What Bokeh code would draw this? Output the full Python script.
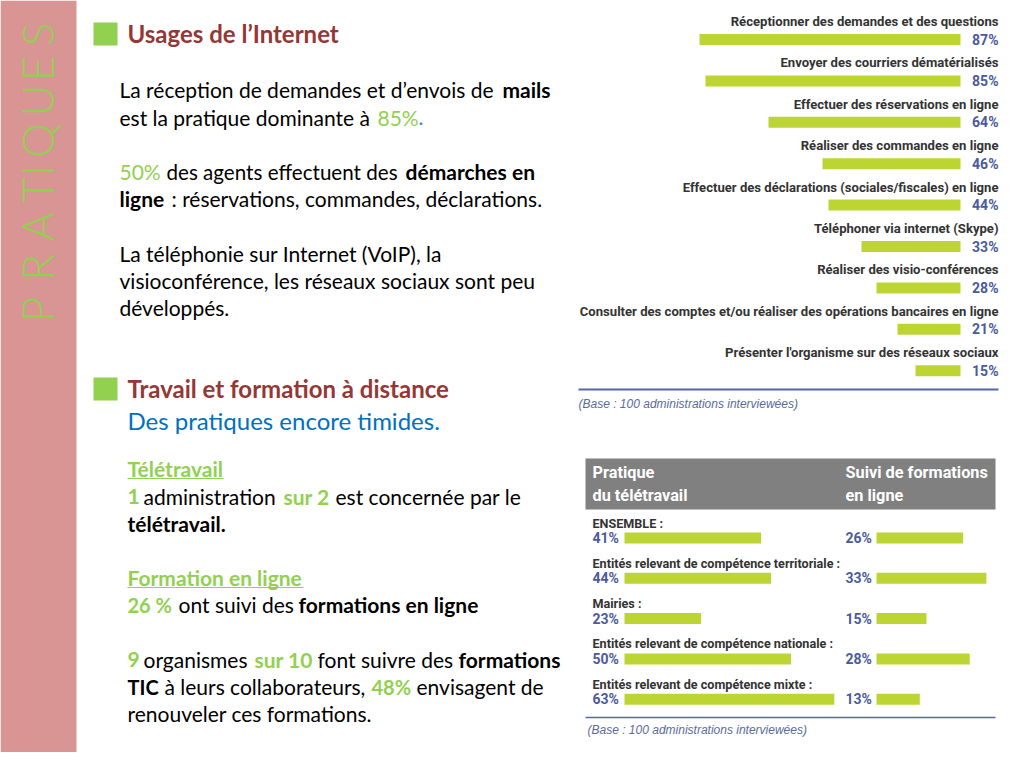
import math
from bokeh.plotting import figure
from bokeh.models import Range1d, ColumnDataSource
from bokeh.core.properties import value
from bokeh.embed import file_html
from bokeh.resources import INLINE

# ---------------- data ----------------
usage_labels = [
    "Réceptionner des demandes et des questions",
    "Envoyer des courriers dématérialisés",
    "Effectuer des réservations en ligne",
    "Réaliser des commandes en ligne",
    "Effectuer des déclarations (sociales/fiscales) en ligne",
    "Téléphoner via internet (Skype)",
    "Réaliser des visio-conférences",
    "Consulter des comptes et/ou réaliser des opérations bancaires en ligne",
    "Présenter l'organisme sur des réseaux sociaux",
]
usage_values = [87, 85, 64, 46, 44, 33, 28, 21, 15]

entity_labels = [
    "ENSEMBLE :",
    "Entités relevant de compétence territoriale :",
    "Mairies :",
    "Entités relevant de compétence nationale :",
    "Entités relevant de compétence mixte :",
]
teletravail_values = [41, 44, 23, 50, 63]
formation_values = [26, 33, 15, 28, 13]

header_left = ["Pratique", "du télétravail"]
header_right = ["Suivi de formations", "en ligne"]
base_note = "(Base : 100 administrations interviewées)"
side_title = "PRATIQUES"

# ---------------- styles ----------------
PINK = "#d99594"
GREEN = "#92d050"
RED = "#953735"
BLUE = "#0070c0"
LIME = "#bdd532"
VAL = "#4b5b9c"
LAB = "#333333"
GREY = "#808080"
LINE = "#5467aa"
BODY = "Lato"
CHART = "Roboto"

FX0, FX1, FY0, FY1 = 0, 1008, 0, 752


def xr(v0, px0, ppu):
    return Range1d(start=v0 - (px0 - FX0) / ppu, end=v0 + (FX1 - px0) / ppu)


def yr(v0, py0, ppu):
    return Range1d(start=v0 + (FY1 - py0) / ppu, end=v0 + (FY0 - py0) / ppu)


p = figure(width=1008, height=752, x_range=xr(0, 0, 1), y_range=yr(0, 0, 1),
           output_backend="svg", toolbar_location=None, min_border=0,
           x_axis_location=None, y_axis_location=None, outline_line_color=None,
           background_fill_color="white", border_fill_color="white")
p.grid.visible = False

C1_PPU = 41.4
C2_PPU = 40.3
p.extra_x_ranges = {
    "c1x": xr(0, 960, -3.0),
    "c2l": xr(0, 624, 3.33),
    "c2r": xr(0, 876, 3.33),
}
p.extra_y_ranges = {
    "c1y": yr(0, 39, C1_PPU),
    "c2y": yr(0, 537.5, C2_PPU),
}

# ---------------- left strip ----------------
p.patch([0, 76, 76, 64, 0], [0, 0, 752, 768, 768], fill_color=PINK, line_color=None)
letter_y = [309, 267, 226, 190, 170, 140, 100, 68, 34]
p.text(x=[36.5] * len(side_title), y=letter_y, text=list(side_title), angle=math.pi / 2,
       text_font=value("Lato Light"), text_font_size=value("44px"), text_color=GREEN,
       text_align="center", text_baseline="alphabetic")


# ---------------- left text ----------------
def seg(x, y, t, color="black", bold=False, size="21px"):
    p.text(x=[x], y=[y], text=[t], text_font=value(BODY), text_font_size=value(size),
           text_color=color, text_font_style="bold" if bold else "normal",
           text_align="left", text_baseline="middle")


p.quad(left=[93, 93], right=[117, 117], top=[22, 377], bottom=[45, 400],
       fill_color=GREEN, line_color=None)
seg(127, 33, "Usages de l’Internet", RED, True, "24px")
seg(119, 89, "La réception de demandes et d’envois de")
seg(502, 89, "mails", bold=True)
seg(119, 117, "est la pratique dominante à")
seg(377, 117, "85%", GREEN)
seg(418, 117, ".", "#4f81bd")
seg(119, 171, "50%", GREEN)
seg(166, 171, "des agents effectuent des", size="20.6px")
seg(405, 171, "démarches en", bold=True)
seg(119, 198, "ligne", bold=True)
seg(171, 198, ": réservations, commandes, déclarations.")
seg(119, 253, "La téléphonie sur Internet (VoIP), la")
seg(119, 280, "visioconférence, les réseaux sociaux sont peu")
seg(119, 307, "développés.")

seg(127, 388, "Travail et formation à distance", RED, True, "24px")
seg(127, 420, "Des pratiques encore timides.", BLUE, False, "24px")
seg(127, 468, "Télétravail", GREEN, True)
p.segment(x0=[127, 127], y0=[478, 587], x1=[223, 303], y1=[478, 587], line_color=GREEN, line_width=1.2)
seg(127, 496, "1", GREEN, True)
seg(143, 496, "administration")
seg(283, 496, "sur 2", GREEN, True)
seg(335, 496, "est concernée par le")
seg(127, 523, "télétravail.", bold=True)
seg(127, 577, "Formation en ligne", GREEN, True)
seg(127, 604, "26 %", GREEN, True, "20px")
seg(178, 604, "ont suivi des")
seg(298, 604, "formations en ligne", bold=True)
seg(127, 659, "9", GREEN, True)
seg(143, 659, "organismes")
seg(254, 659, "sur 10", GREEN, True)
seg(317, 659, "font suivre des")
seg(458, 659, "formations", bold=True)
seg(127, 686, "TIC", bold=True, size="20px")
seg(164, 686, "à leurs collaborateurs,")
seg(371, 686, "48%", GREEN, True, "20px")
seg(416, 686, "envisagent de")
seg(127, 713, "renouveler ces formations.")

# ---------------- chart 1 ----------------
idx1 = list(range(len(usage_values)))
src1 = ColumnDataSource(dict(y=idx1, v=usage_values, lab=usage_labels,
                             vt=[f"{v}%" for v in usage_values], zero=[0] * len(idx1),
                             xt=[998] * len(idx1)))
p.hbar(y="y", left="zero", right="v", height=11 / C1_PPU, source=src1,
       x_range_name="c1x", y_range_name="c1y", fill_color=LIME, line_color=None)
p.text(x="xt", y="y", text="lab", source=src1, y_range_name="c1y", y_offset=-18,
       text_font=value(CHART), text_font_size=value("13.1px"), text_font_style="bold",
       text_color=LAB, text_align="right", text_baseline="middle")
p.text(x="xt", y="y", text="vt", source=src1, y_range_name="c1y",
       text_font=value(CHART), text_font_size=value("14px"), text_font_style="bold",
       text_color=VAL, text_align="right", text_baseline="middle")
p.segment(x0=[578], y0=[389], x1=[998], y1=[389], line_color=LINE, line_width=2)
p.text(x=[578], y=[403], text=[base_note], text_font=value("Liberation Sans"),
       text_font_size=value("12px"), text_font_style="italic", text_color="#5b6b9b",
       text_align="left", text_baseline="middle")

# ---------------- chart 2 ----------------
p.quad(left=[585], right=[995], top=[458], bottom=[509], fill_color=GREY, line_color=None)
p.text(x=[592, 592], y=[472, 495], text=header_left, text_font=value(CHART),
       text_font_size=value("16.3px"), text_font_style="bold", text_color="white",
       text_align="left", text_baseline="middle")
p.text(x=[845, 845], y=[472, 495], text=header_right, text_font=value(CHART),
       text_font_size=value("16.3px"), text_font_style="bold", text_color="white",
       text_align="left", text_baseline="middle")

idx2 = list(range(len(entity_labels)))
src2 = ColumnDataSource(dict(y=idx2, t=teletravail_values, f=formation_values, lab=entity_labels,
                             tt=[f"{v}%" for v in teletravail_values],
                             ft=[f"{v}%" for v in formation_values],
                             zero=[0] * len(idx2), xl=[592] * len(idx2), xr=[845] * len(idx2)))
p.hbar(y="y", left="zero", right="t", height=11 / C2_PPU, source=src2,
       x_range_name="c2l", y_range_name="c2y", fill_color=LIME, line_color=None)
p.hbar(y="y", left="zero", right="f", height=11 / C2_PPU, source=src2,
       x_range_name="c2r", y_range_name="c2y", fill_color=LIME, line_color=None)
p.text(x="xl", y="y", text="lab", source=src2, y_range_name="c2y", y_offset=-15,
       text_font=value(CHART), text_font_size=value("12.6px"), text_font_style="bold",
       text_color=LAB, text_align="left", text_baseline="middle")
p.text(x="xl", y="y", text="tt", source=src2, y_range_name="c2y",
       text_font=value(CHART), text_font_size=value("14px"), text_font_style="bold",
       text_color=VAL, text_align="left", text_baseline="middle")
p.text(x="xr", y="y", text="ft", source=src2, y_range_name="c2y",
       text_font=value(CHART), text_font_size=value("14px"), text_font_style="bold",
       text_color=VAL, text_align="left", text_baseline="middle")
p.segment(x0=[585], y0=[717], x1=[995], y1=[717], line_color=LINE, line_width=1.5)
p.text(x=[587], y=[729], text=[base_note], text_font=value("Liberation Sans"),
       text_font_size=value("12px"), text_font_style="italic", text_color="#5b6b9b",
       text_align="left", text_baseline="middle")

open("out.html", "w").write(file_html(p, INLINE))
